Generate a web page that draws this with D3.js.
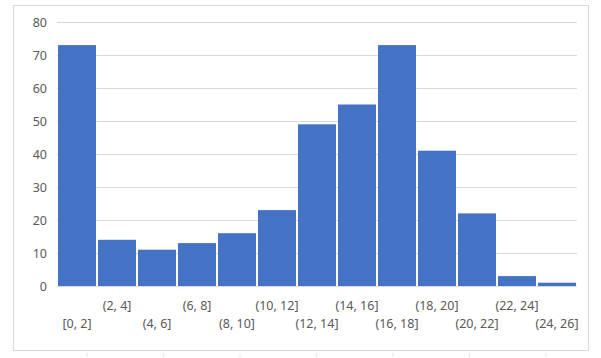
<!DOCTYPE html>
<html><head><meta charset="utf-8">
<script src="https://cdn.jsdelivr.net/npm/d3@7"></script>
<style>
html,body{margin:0;padding:0;background:#fff;}
text{font-family:"Segoe UI","Noto Sans","Open Sans",sans-serif;}
</style></head>
<body><svg id="c" width="601" height="358"></svg>
<script>
const categories = ["[0, 2]","(2, 4]","(4, 6]","(6, 8]","(8, 10]","(10, 12]","(12, 14]","(14, 16]","(16, 18]","(18, 20]","(20, 22]","(22, 24]","(24, 26]"];
const counts = [73, 14, 11, 13, 16, 23, 49, 55, 73, 41, 22, 3, 1];
const yTicks = [0, 10, 20, 30, 40, 50, 60, 70, 80];

const svg = d3.select("#c");
const L = 57, R = 577, T = 22, B = 286;

svg.append("rect").attr("x",13.5).attr("y",5.5).attr("width",575).attr("height",345)
  .attr("fill","#fff").attr("stroke","#d9d9d9").attr("stroke-width",1);

const x = d3.scaleBand().domain(categories).range([L, R]).padding(0);
const y = d3.scaleLinear().domain([0, 80]).range([B, T]);

// gridlines
const yAxis = d3.axisLeft(y).tickValues(yTicks).tickSize(-(R - L)).tickPadding(10);
const gy = svg.append("g").attr("transform", `translate(${L},0)`).call(yAxis);
gy.select(".domain").remove();
gy.selectAll(".tick line").attr("stroke","#d9d9d9").attr("stroke-width",1);
gy.selectAll(".tick text").attr("fill","#595959").style("font-size","12.5px");

// bars
svg.append("g").selectAll("rect").data(counts).join("rect")
  .attr("x", (d,i) => x(categories[i]) + 1)
  .attr("width", x.bandwidth() - 2)
  .attr("y", d => y(d))
  .attr("height", d => B - y(d))
  .attr("fill", "#4472C4");

// x labels (staggered)
const xAxis = d3.axisBottom(x).tickSize(0);
const gx = svg.append("g").attr("transform", `translate(0,${B})`).call(xAxis);
gx.select(".domain").remove();
gx.selectAll(".tick text")
  .attr("fill","#595959").style("font-size","12.5px")
  .attr("dy", null)
  .attr("y", (d,i) => i % 2 === 1 ? 24 : 42);

// small ticks below border (as in the reference)
const bottomTicks = d3.range(0, 7).map(i => 87 + i * 76.5);
svg.append("g").selectAll("line").data(bottomTicks).join("line")
  .attr("x1", d => d).attr("x2", d => d).attr("y1", 353).attr("y2", 357)
  .attr("stroke","#e6e6e6");
</script></body></html>
